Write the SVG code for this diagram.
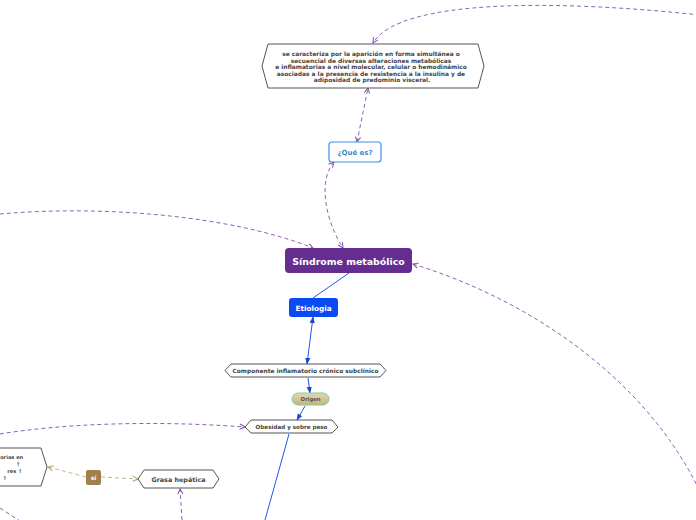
<svg xmlns="http://www.w3.org/2000/svg" width="696" height="520" viewBox="0 0 696 520">
<defs>
<style>
.pd{fill:none;stroke:#9060b8;stroke-width:1;stroke-dasharray:4 3}
.td{fill:none;stroke:#c9b88a;stroke-width:1;stroke-dasharray:4 3}
.bl{fill:none;stroke:#1f55f0;stroke-width:1}
.hex{fill:#fff;stroke:#555;stroke-width:1}
.t{font-family:"DejaVu Sans","Liberation Sans",sans-serif;font-weight:bold;text-anchor:middle}
</style>
<marker id="ap" viewBox="0 0 8 8" refX="7" refY="4" markerWidth="7" markerHeight="7" orient="auto-start-reverse" markerUnits="userSpaceOnUse">
<path d="M1 1 L7 4 L1 7" fill="none" stroke="#8a55b5" stroke-width="1.2"/>
</marker>
<marker id="at" viewBox="0 0 8 8" refX="7" refY="4" markerWidth="7" markerHeight="7" orient="auto-start-reverse" markerUnits="userSpaceOnUse">
<path d="M1 1 L7 4 L1 7" fill="none" stroke="#b8a070" stroke-width="1.2"/>
</marker>
<marker id="ab" viewBox="0 0 8 8" refX="7" refY="4" markerWidth="7" markerHeight="7" orient="auto-start-reverse" markerUnits="userSpaceOnUse">
<path d="M0 1 L8 4 L0 7 Z" fill="#2244cc"/>
</marker>
<linearGradient id="og" x1="0" y1="0" x2="0" y2="1">
<stop offset="0" stop-color="#e6d6b4"/>
<stop offset="1" stop-color="#c9b07c"/>
</linearGradient>
</defs>
<rect width="696" height="520" fill="#fff"/>
<g id="connectors">
<path class="pd" d="M700 15 C560 0 400 -2 373 43" marker-end="url(#ap)"/>
<path class="pd" d="M357 142 L368 88" marker-start="url(#ap)" marker-end="url(#ap)"/>
<path class="pd" d="M334 162 C318 180 325 220 343 248" marker-start="url(#ap)" marker-end="url(#ap)"/>
<path class="pd" d="M0 214 C100 205 230 215 313 248" marker-end="url(#ap)"/>
<path class="pd" d="M413 264 C530 300 650 380 704 500" marker-start="url(#ap)"/>
<path class="bl" d="M349 273 L313 298"/>
<path class="bl" d="M313 317 L307 364" marker-start="url(#ab)" marker-end="url(#ab)"/>
<path class="bl" d="M308 378 L310 393" marker-end="url(#ab)"/>
<path class="bl" d="M305 406 L297 420" marker-end="url(#ab)"/>
<path class="bl" d="M289 434 L265 520"/>
<path class="pd" d="M0 434 C60 424 150 420 245 427" marker-end="url(#ap)"/>
<path class="td" d="M86 477 L48 467" marker-end="url(#at)"/>
<path class="td" d="M101 477 L138 479" marker-end="url(#at)"/>
<path class="pd" d="M182 520 L180 489" marker-end="url(#ap)"/>
<path class="pd" d="M0 508 L20 521"/>
</g>
<g id="n-def">
<polygon class="hex" points="268,44 478,44 484,66 478,88 268,88 262,66"/>
<text class="t" font-size="5.9" fill="#444">
<tspan x="372" y="56">se caracteriza por la aparición en forma simultánea o</tspan>
<tspan x="372" y="62.5">secuencial de diversas alteraciones metabólicas</tspan>
<tspan x="372" y="69">e inflamatorias a nivel molecular, celular o hemodinámico</tspan>
<tspan x="372" y="75.5">asociadas a la presencia de resistencia a la insulina y de</tspan>
<tspan x="372" y="82">adiposidad de predominio visceral.</tspan>
</text>
</g>
<g id="n-que">
<rect x="329" y="142" width="52" height="20" rx="3" fill="#fff" stroke="#3d8fe8" stroke-width="1.2"/>
<text class="t" x="355" y="155" font-size="7" fill="#3a8cc8">¿Qué es?</text>
</g>
<g id="n-sindrome">
<rect x="285" y="248" width="127" height="25" rx="4" fill="#662d91"/>
<text class="t" x="348.5" y="264.5" font-size="9.4" fill="#fff">Síndrome metabólico</text>
</g>
<g id="n-etiologia">
<rect x="289" y="298" width="49" height="19" rx="3" fill="#0a4af5"/>
<text class="t" x="313.5" y="310.5" font-size="7.3" fill="#fff">Etiologia</text>
</g>
<g id="n-componente">
<polygon class="hex" points="231,364 380,364 386,370.5 380,377 231,377 225,370.5"/>
<text class="t" x="305.5" y="373" font-size="5.9" fill="#444">Componente inflamatorio  crónico subclínico</text>
</g>
<g id="n-origen">
<rect x="292" y="393" width="37" height="12" rx="6" fill="url(#og)" stroke="#7fcf9a" stroke-width="1"/>
<text class="t" x="310.5" y="401" font-size="5.3" fill="#555">Origen</text>
</g>
<g id="n-obesidad">
<polygon class="hex" points="251,420 332,420 338,427 332,433 251,433 245,427"/>
<text class="t" x="291.5" y="429.3" font-size="5.6" fill="#444">Obesidad y sobre peso</text>
</g>
<g id="n-si">
<rect x="86" y="470" width="15" height="15" rx="2" fill="#a0804c"/>
<text class="t" x="93.5" y="480" font-size="6" fill="#fff">sí</text>
</g>
<g id="n-grasa">
<polygon class="hex" points="144,470 213,470 219,479 213,488 144,488 138,479"/>
<text class="t" x="178.5" y="481.5" font-size="6.4" fill="#444">Grasa hepática</text>
</g>
<g id="n-left">
<polygon class="hex" points="-10,448 41,448 47,467 41,486 -10,486"/>
<text class="t" font-size="5.1" fill="#444" style="text-anchor:end">
<tspan x="25" y="459">orias en</tspan>
<tspan x="22" y="466">↑</tspan>
<tspan x="24" y="473">res ↑</tspan>
<tspan x="7" y="480">↑</tspan>
</text>
</g>
</svg>
